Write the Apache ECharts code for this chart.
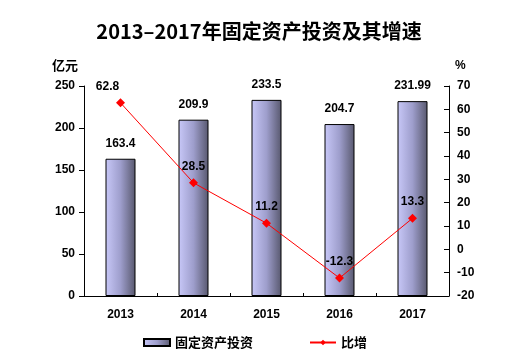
<!DOCTYPE html>
<html><head><meta charset="utf-8">
<script src="https://cdn.jsdelivr.net/npm/echarts@6/dist/echarts.min.js"></script>
<style>html,body{margin:0;padding:0;background:#fff}#c{width:518px;height:357px}</style>
</head><body><div id="c"></div>
<script>
const years = ['2013','2014','2015','2016','2017'];
const investment = [163.4, 209.9, 233.5, 204.7, 231.99];
const investmentLabels = ['163.4','209.9','233.5','204.7','231.99'];
const growth = [62.8, 28.5, 11.2, -12.3, 13.3];
const leftTicks = {min:0, max:250, interval:50};
const rightTicks = {min:-20, max:70, interval:10};

const numFont = '"Liberation Sans", Arial, sans-serif';
const cjkFont = '"Noto Sans CJK SC", sans-serif';
const chart = echarts.init(document.getElementById('c'), null, {renderer:'canvas'});
chart.setOption({
  animation:false,
  backgroundColor:'#fff',
  title:{text:'2013–2017年固定资产投资及其增速', left:'center', top:16,
    textStyle:{fontFamily:cjkFont, fontSize:20, fontWeight:'bold', color:'#000'}},
  grid:{left:84, right:69, top:86, bottom:61},
  legend:{left:138, top:331, itemWidth:26, itemHeight:7, itemGap:56,
    textStyle:{fontFamily:cjkFont, fontSize:13, fontWeight:'bold', color:'#000'},
    data:[{name:'固定资产投资', icon:'rect'},{name:'比增'}]},
  xAxis:{type:'category', data:years, boundaryGap:true,
    axisLine:{lineStyle:{color:'#000', width:1}},
    axisTick:{show:true, inside:true, length:3, lineStyle:{color:'#000'}},
    axisLabel:{fontFamily:numFont, fontSize:12, fontWeight:'bold', color:'#000', margin:13}},
  yAxis:[
    {type:'value', min:leftTicks.min, max:leftTicks.max, interval:leftTicks.interval,
     name:'亿元', nameLocation:'end', nameGap:14, nameTextStyle:{fontFamily:cjkFont, fontSize:13, fontWeight:'bold', color:'#000', align:'right', padding:[0,6,0,0]},
     axisLine:{show:true, lineStyle:{color:'#000'}}, axisTick:{show:true, length:5, lineStyle:{color:'#000'}},
     splitLine:{show:false},
     axisLabel:{fontFamily:numFont, fontSize:12, fontWeight:'bold', color:'#000', margin:9}},
    {type:'value', min:rightTicks.min, max:rightTicks.max, interval:rightTicks.interval,
     name:'%', nameLocation:'end', nameGap:14, nameTextStyle:{fontFamily:numFont, fontSize:12, fontWeight:'bold', color:'#000', align:'left', padding:[0,0,0,6]},
     axisLine:{show:true, lineStyle:{color:'#000'}}, axisTick:{show:true, inside:true, length:5, lineStyle:{color:'#000'}},
     splitLine:{show:false},
     axisLabel:{fontFamily:numFont, fontSize:12, fontWeight:'bold', color:'#000', margin:8}}
  ],
  series:[
    {name:'固定资产投资', type:'bar', yAxisIndex:0, barWidth:30,
     data:investment,
     itemStyle:{borderColor:'#000', borderWidth:1,
       color:new echarts.graphic.LinearGradient(0,0,1,0,[
         {offset:0, color:'#c8c8f8'},{offset:0.5, color:'#9e9ecc'},{offset:1, color:'#58586e'}])},
     label:{show:true, position:'top', distance:9, fontFamily:numFont, fontSize:12, fontWeight:'bold', color:'#000',
       formatter:p=>investmentLabels[p.dataIndex]}},
    {name:'比增', type:'line', yAxisIndex:1, smooth:false,
     data:growth.map((v,i)=> i===0 ? {value:v, label:{offset:[-13,0]}} : v),
     symbol:'diamond', symbolSize:9,
     lineStyle:{color:'#ff0000', width:1}, itemStyle:{color:'#ff0000'},
     label:{show:true, position:'top', distance:6, fontFamily:numFont, fontSize:12, fontWeight:'bold', color:'#000'}}
  ]
});
</script></body></html>
